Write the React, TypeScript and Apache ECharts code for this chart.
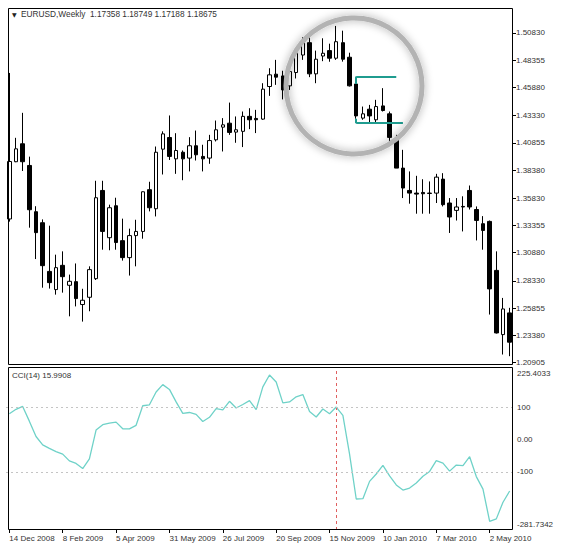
import React, { useEffect, useRef } from "react";
import * as echarts from "echarts";

const DATES = [
  "14 Dec 2008", "21 Dec 2008", "28 Dec 2008", "4 Jan 2009", "11 Jan 2009", "18 Jan 2009", "25 Jan 2009", "1 Feb 2009",
  "8 Feb 2009", "15 Feb 2009", "22 Feb 2009", "1 Mar 2009", "8 Mar 2009", "15 Mar 2009", "22 Mar 2009", "29 Mar 2009",
  "5 Apr 2009", "12 Apr 2009", "19 Apr 2009", "26 Apr 2009", "3 May 2009", "10 May 2009", "17 May 2009", "24 May 2009",
  "31 May 2009", "7 Jun 2009", "14 Jun 2009", "21 Jun 2009", "28 Jun 2009", "5 Jul 2009", "12 Jul 2009", "19 Jul 2009",
  "26 Jul 2009", "2 Aug 2009", "9 Aug 2009", "16 Aug 2009", "23 Aug 2009", "30 Aug 2009", "6 Sep 2009", "13 Sep 2009",
  "20 Sep 2009", "27 Sep 2009", "4 Oct 2009", "11 Oct 2009", "18 Oct 2009", "25 Oct 2009", "1 Nov 2009", "8 Nov 2009",
  "15 Nov 2009", "22 Nov 2009", "29 Nov 2009", "6 Dec 2009", "13 Dec 2009", "20 Dec 2009", "27 Dec 2009", "3 Jan 2010",
  "10 Jan 2010", "17 Jan 2010", "24 Jan 2010", "31 Jan 2010", "7 Feb 2010", "14 Feb 2010", "21 Feb 2010", "28 Feb 2010",
  "7 Mar 2010", "14 Mar 2010", "21 Mar 2010", "28 Mar 2010", "4 Apr 2010", "11 Apr 2010", "18 Apr 2010", "25 Apr 2010",
  "2 May 2010", "9 May 2010", "16 May 2010", "23 May 2010",
];

const OPEN = [
  1.3394, 1.3914, 1.4077, 1.388, 1.346, 1.336, 1.2918, 1.2753, 1.2973, 1.2792, 1.2825, 1.2617, 1.2683, 1.2852, 1.3653, 1.3224,
  1.3514, 1.3197, 1.3043, 1.3243, 1.3281, 1.366, 1.3487, 1.4028, 1.4134, 1.394, 1.4, 1.3947, 1.4059, 1.3962, 1.3947, 1.4113,
  1.4228, 1.4264, 1.4183, 1.419, 1.4326, 1.4307, 1.4301, 1.4597, 1.4709, 1.4693, 1.4603, 1.4724, 1.4883, 1.4995, 1.4712, 1.4874,
  1.4923, 1.4854, 1.4995, 1.4863, 1.462, 1.431, 1.4391, 1.4295, 1.4421, 1.4349, 1.4113, 1.3856, 1.3653, 1.3629, 1.3635, 1.3629,
  1.3629, 1.3756, 1.3539, 1.3472, 1.3508, 1.3653, 1.348, 1.3351, 1.3372, 1.2927, 1.2344, 1.2541,
];
const CLOSE = [
  1.3916, 1.4031, 1.3914, 1.3478, 1.327, 1.297, 1.2816, 1.2952, 1.287, 1.2828, 1.2671, 1.2656, 1.2934, 1.3587, 1.3281, 1.3496,
  1.318, 1.3043, 1.3243, 1.3281, 1.3641, 1.3496, 1.4, 1.4167, 1.3962, 1.4016, 1.394, 1.4059, 1.3977, 1.394, 1.4106, 1.4204,
  1.4249, 1.418, 1.4204, 1.4326, 1.4295, 1.4295, 1.4573, 1.4703, 1.4682, 1.4566, 1.4733, 1.4899, 1.4995, 1.4712, 1.4845, 1.4899,
  1.4854, 1.5004, 1.4845, 1.4603, 1.433, 1.4349, 1.433, 1.4415, 1.4379, 1.4135, 1.3856, 1.3675, 1.3629, 1.362, 1.3623, 1.3626,
  1.3774, 1.3524, 1.3412, 1.3503, 1.3503, 1.3503, 1.3381, 1.329, 1.2759, 1.2359, 1.2577, 1.2275,
];
const LOW = [
  1.337, 1.391, 1.383, 1.3315, 1.303, 1.277, 1.2762, 1.2707, 1.2725, 1.251, 1.26, 1.2462, 1.2556, 1.284, 1.3115, 1.311,
  1.3115, 1.3016, 1.288, 1.2964, 1.3215, 1.3463, 1.3417, 1.3798, 1.393, 1.3804, 1.3746, 1.3826, 1.3925, 1.3826, 1.3895, 1.4098,
  1.4007, 1.4158, 1.4086, 1.4047, 1.421, 1.4174, 1.4295, 1.4512, 1.4612, 1.448, 1.4566, 1.467, 1.4839, 1.4682, 1.4627, 1.4827,
  1.4822, 1.4839, 1.4823, 1.4597, 1.4304, 1.4295, 1.4264, 1.4264, 1.437, 1.4082, 1.3856, 1.3584, 1.3533, 1.3442, 1.3442, 1.3442,
  1.3539, 1.3508, 1.3267, 1.338, 1.3281, 1.348, 1.3199, 1.3115, 1.2526, 1.2354, 1.2163, 1.2148,
];
const HIGH = [
  1.472, 1.4131, 1.4358, 1.396, 1.351, 1.339, 1.3333, 1.307, 1.31, 1.2889, 1.299, 1.276, 1.2964, 1.3741, 1.3741, 1.3524,
  1.3587, 1.3397, 1.3306, 1.3387, 1.3644, 1.3732, 1.4052, 1.419, 1.4334, 1.4173, 1.4016, 1.4137, 1.4197, 1.4068, 1.4158, 1.4288,
  1.431, 1.4451, 1.4325, 1.437, 1.44, 1.4385, 1.4627, 1.4763, 1.4839, 1.474, 1.4778, 1.4929, 1.5044, 1.5044, 1.4923, 1.5035,
  1.4986, 1.5147, 1.5104, 1.4904, 1.4625, 1.4415, 1.443, 1.4476, 1.4582, 1.437, 1.4158, 1.4022, 1.3826, 1.3786, 1.3755, 1.3735,
  1.3804, 1.381, 1.3584, 1.3584, 1.36, 1.3698, 1.3508, 1.342, 1.338, 1.31, 1.2677, 1.2587,
];

const CCI = [
  81, 95, 104, 58, 10, -16, -27, -37, -45, -66, -74, -90, -60, 30, 47, 52,
  55, 34, 34, 45, 106, 109, 149, 172, 157, 118, 82, 85, 79, 57, 70, 97,
  93, 120, 99, 110, 122, 94, 165, 202, 180, 115, 118, 134, 141, 88, 71, 96,
  81, 102, 76, -45, -185, -184, -130, -107, -80, -113, -141, -157, -151, -135, -114, -99,
  -65, -73, -98, -79, -81, -53, -115, -154, -255, -247, -195, -160,
];

const PRICE_TICKS = [1.20905, 1.2338, 1.25855, 1.2833, 1.3088, 1.33355, 1.3583, 1.3838, 1.40855, 1.4333, 1.4588, 1.48355, 1.5083];
const CCI_MAX = 225.4033;
const CCI_MIN = -281.7342;
const CCI_LEVELS = [100, 0, -100];
const CCI_LABELS = ["225.4033", "100", "0.00", "-100", "-281.7342"];

const HEADER = "EURUSD,Weekly  1.17358 1.18749 1.17188 1.18675";
const CCI_TITLE = "CCI(14) 15.9908";
const MARK_INDEX = 49;
const LEVEL_HIGH = 1.4687;
const LEVEL_LOW = 1.4264;
const LEVEL_START = 52;
const LEVEL_HIGH_END = 58;
const LEVEL_LOW_END = 59;

const FONT = "Liberation Sans";
const TEXT = "#333";

export default function App() {
  const ref = useRef<HTMLDivElement>(null);
  useEffect(() => {
    if (!ref.current) return;
    const chart = echarts.init(ref.current, null, { renderer: "svg" });
    const candleData = OPEN.map((o, i) => [o, CLOSE[i], LOW[i], HIGH[i]]);
    const teal = { color: "#1f9c8f", width: 2, type: "solid" as const };
    // MT4 draws the panel's max / min labels just inside the panel edges
    const perPx = (CCI_MAX - CCI_MIN) / 162;
    const cciLabelPos = [CCI_MAX - 6 * perPx, ...CCI_LEVELS, CCI_MIN + 5 * perPx];
    chart.setOption({
      animation: false,
      backgroundColor: "#fff",
      textStyle: { fontFamily: FONT },
      grid: [
        { left: 6, right: 49, top: 8, height: 356 },
        { left: 6, right: 49, top: 367.5, height: 162.5 },
      ],
      xAxis: [
        {
          type: "category", gridIndex: 0, data: DATES, boundaryGap: true,
          axisLine: { show: false, onZero: false }, axisTick: { show: false }, axisLabel: { show: false }, splitLine: { show: false },
        },
        {
          type: "category", gridIndex: 1, data: DATES, boundaryGap: true, position: "bottom",
          axisLine: { show: false, onZero: false },
          axisTick: { show: true, interval: 7, alignWithLabel: true, length: 3, lineStyle: { color: "#000" } },
          axisLabel: { interval: 7, align: "left", fontSize: 8, color: TEXT, fontFamily: FONT, margin: 4 },
          splitLine: { show: false },
        },
      ],
      yAxis: [
        {
          type: "value", gridIndex: 0, position: "right", min: 1.2077, max: 1.531, scale: true,
          splitLine: { show: false }, axisLine: { show: false },
          axisTick: { show: true, length: 3, customValues: PRICE_TICKS, lineStyle: { color: "#000" } },
          axisLabel: {
            customValues: PRICE_TICKS, fontSize: 8, color: TEXT, fontFamily: FONT, margin: 3,
            formatter: (v: number) => v.toFixed(5),
          },
        },
        {
          type: "value", gridIndex: 1, position: "right", min: CCI_MIN, max: CCI_MAX,
          splitLine: { show: false }, axisLine: { show: false },
          axisTick: { show: false },
          axisLabel: {
            customValues: cciLabelPos, fontSize: 8, color: TEXT, fontFamily: FONT, margin: 4,
            formatter: (v: number) => {
              let best = 0;
              cciLabelPos.forEach((t, i) => { if (Math.abs(t - v) < Math.abs(cciLabelPos[best] - v)) best = i; });
              return CCI_LABELS[best];
            },
          },
        },
      ],
      series: [
        {
          type: "candlestick", xAxisIndex: 0, yAxisIndex: 0, data: candleData, barWidth: 4,
          itemStyle: { color: "#fff", color0: "#000", borderColor: "#000", borderColor0: "#000", borderWidth: 1 },
          markLine: {
            silent: true, symbol: ["none", "none"], label: { show: false }, lineStyle: teal,
            data: [
              [{ coord: [DATES[LEVEL_START], LEVEL_HIGH] }, { coord: [DATES[LEVEL_HIGH_END], LEVEL_HIGH] }],
              [{ coord: [DATES[LEVEL_START], LEVEL_HIGH] }, { coord: [DATES[LEVEL_START], OPEN[LEVEL_START]] }],
              [{ coord: [DATES[LEVEL_START], LEVEL_LOW] }, { coord: [DATES[LEVEL_LOW_END], LEVEL_LOW] }],
              [{ coord: [DATES[LEVEL_START], LEVEL_LOW] }, { coord: [DATES[LEVEL_START], LOW[LEVEL_START]] }],
            ],
          },
        },
        {
          type: "line", xAxisIndex: 1, yAxisIndex: 1, data: CCI, symbol: "none",
          lineStyle: { color: "#6fd2c8", width: 1.3 },
          markLine: {
            silent: true, symbol: ["none", "none"], label: { show: false },
            data: [
              { xAxis: DATES[MARK_INDEX], lineStyle: { color: "#e06060", type: [3, 3], width: 1 } },
              { yAxis: 100, lineStyle: { color: "#c4c4c4", type: [2, 3], width: 1 } },
              { yAxis: -100, lineStyle: { color: "#c4c4c4", type: [2, 3], width: 1 } },
            ],
          },
        },
      ],
      graphic: [
        { type: "rect", z: 100, shape: { x: 8.5, y: 8.5, width: 504, height: 356 }, style: { fill: "none", stroke: "#000", lineWidth: 1 } },
        { type: "rect", z: 100, shape: { x: 8.5, y: 367.5, width: 504, height: 162 }, style: { fill: "none", stroke: "#000", lineWidth: 1 } },
        {
          type: "circle", z: 101, shape: { cx: 354, cy: 86, r: 68 },
          style: { fill: "none", stroke: "#b3b3b3", lineWidth: 5, shadowBlur: 8, shadowColor: "rgba(0,0,0,0.35)" },
        },
        { type: "text", z: 102, left: 12, top: 11, style: { text: "▼", fontSize: 6, fill: "#222", fontFamily: "DejaVu Sans" } },
        { type: "text", z: 102, left: 21, top: 10, style: { text: HEADER, fontSize: 8.3, fill: TEXT, fontFamily: FONT } },
        { type: "text", z: 102, left: 12, top: 371, style: { text: CCI_TITLE, fontSize: 8, fill: TEXT, fontFamily: FONT } },
      ],
    });
    return () => chart.dispose();
  }, []);
  return <div ref={ref} style={{ position: "absolute", left: 0, top: 0, width: 562, height: 553, background: "#fff" }} />;
}
